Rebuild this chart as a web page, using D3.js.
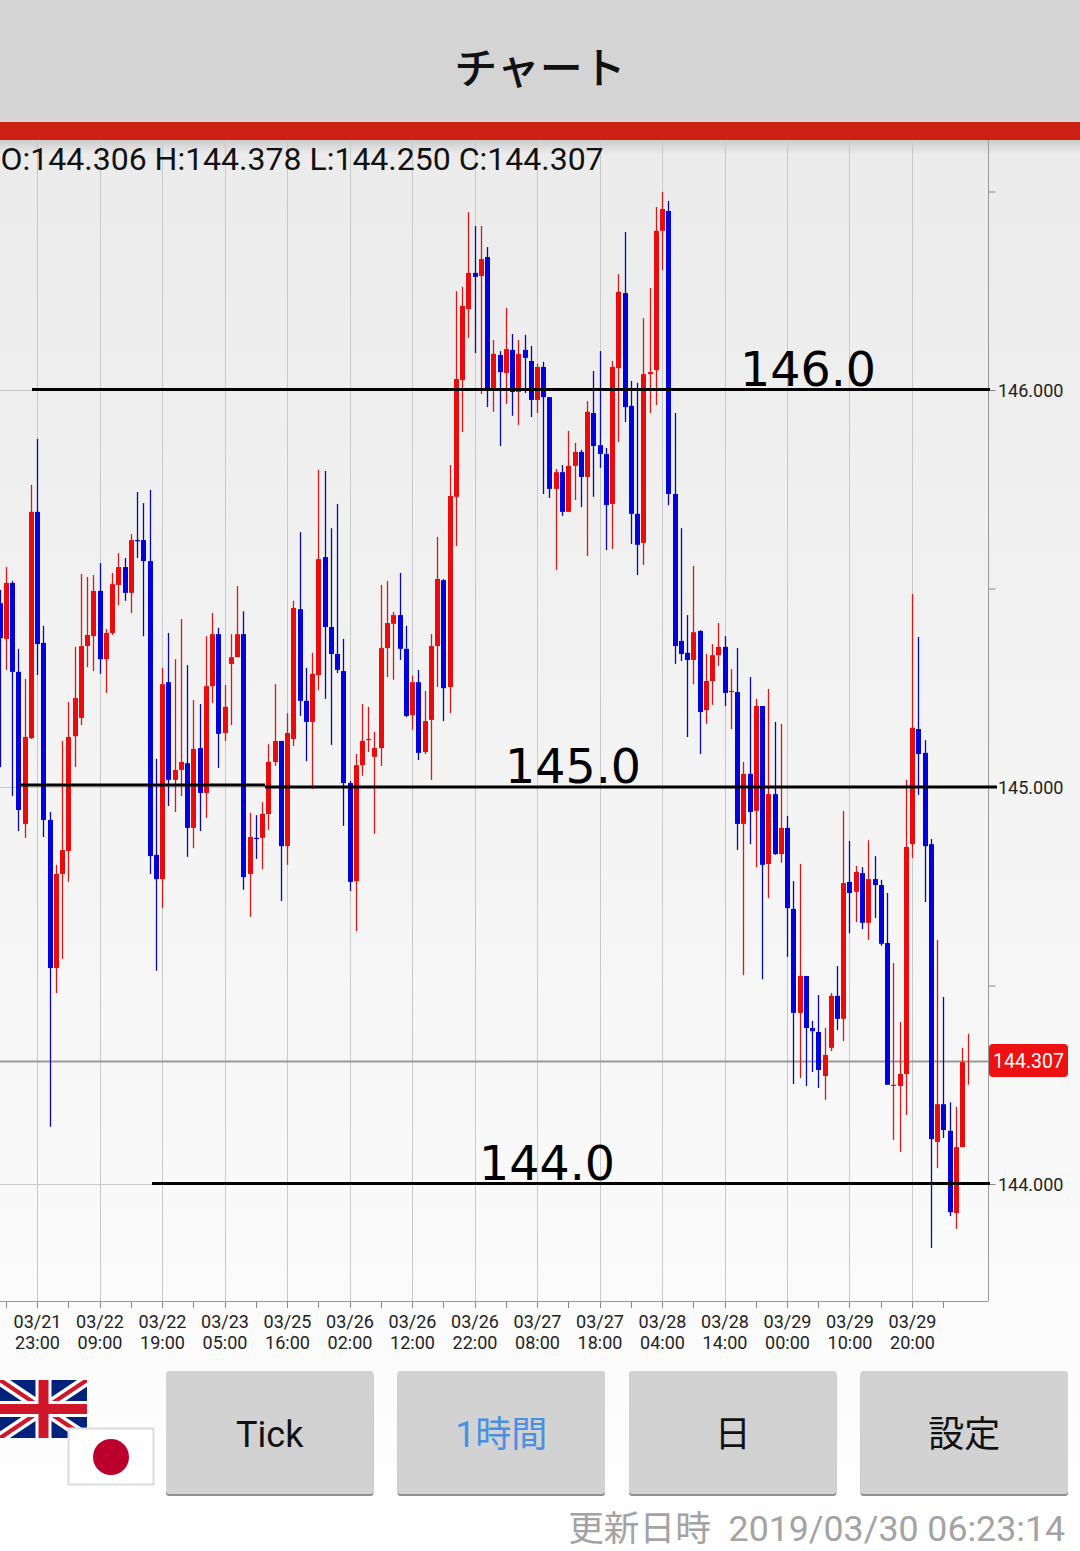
<!DOCTYPE html>
<html lang="ja">
<head>
<meta charset="utf-8">
<script src="https://cdn.jsdelivr.net/npm/d3@7/dist/d3.min.js"></script>
<style>
html,body{margin:0;padding:0;background:#fff;}
svg{display:block;}
text{font-family:Roboto,"Noto Sans CJK JP",sans-serif;}
</style>
</head>
<body>
<script>
const highs=[145.496,145.554,145.519,145.348,145.272,145.761,145.877,145.406,144.937,144.804,
145.116,145.214,145.353,145.537,145.529,145.534,145.564,145.398,145.539,145.589,
145.577,145.637,145.743,145.715,145.748,145.071,145.300,145.388,145.322,145.423,
145.307,145.219,145.209,145.380,145.438,145.401,145.257,145.385,145.506,145.443,
144.935,144.929,144.962,145.108,145.259,145.116,145.186,145.469,145.642,145.300,
145.338,145.799,145.796,145.652,145.713,145.373,145.015,145.083,145.209,145.202,
145.139,145.509,145.519,145.441,145.539,145.406,145.280,145.295,145.242,145.385,
145.630,145.524,145.811,146.249,146.260,146.448,146.413,146.413,146.360,146.126,
146.098,146.207,146.141,146.126,146.139,146.111,146.066,146.071,145.982,145.801,
145.811,145.897,145.867,145.849,145.972,146.048,146.098,145.854,146.073,146.292,
146.398,146.023,146.018,146.181,146.257,146.461,146.499,146.476,145.942,145.652,
145.433,145.557,145.395,145.335,145.360,145.413,145.380,145.297,145.350,145.063,
145.277,145.222,145.204,145.247,145.164,145.159,144.927,144.763,144.806,144.524,
144.411,144.476,144.393,144.481,144.549,144.940,144.864,144.801,144.798,144.866,
144.826,144.766,144.733,144.557,144.408,145.018,145.486,145.378,145.118,144.869,
144.615,144.471,144.206,144.194,144.343,144.378];
const lows=[145.050,145.295,144.977,144.889,144.872,145.121,145.282,144.874,144.144,144.481,
144.567,144.761,145.050,145.156,145.302,145.292,145.285,145.237,145.383,145.458,
145.469,145.438,145.577,145.380,144.781,144.537,144.695,144.952,144.937,144.977,
144.824,144.846,144.889,144.922,145.212,145.048,145.116,145.156,145.327,144.741,
144.673,144.819,144.793,144.892,145.053,144.713,144.804,145.103,145.179,145.065,
144.995,145.244,145.222,145.106,145.287,144.902,144.738,144.637,145.028,145.088,
144.882,145.053,145.277,145.270,145.320,145.176,145.144,145.068,145.083,145.018,
145.252,145.166,145.186,145.607,145.894,146.131,146.093,145.990,145.957,145.945,
145.859,145.965,145.935,145.912,145.992,145.932,145.942,145.738,145.728,145.547,
145.683,145.693,145.723,145.705,145.582,145.731,145.804,145.597,145.600,145.869,
145.919,145.612,145.534,145.559,145.942,145.962,146.302,145.710,145.310,145.317,
145.126,145.259,145.083,145.159,145.207,145.305,145.204,145.146,144.841,144.526,
144.856,144.798,144.516,144.720,144.829,144.809,144.572,144.252,144.267,144.247,
144.282,144.242,144.212,144.335,144.388,144.360,144.632,144.660,144.642,144.615,
144.670,144.600,144.250,144.111,144.081,144.174,144.821,144.980,144.710,143.839,
144.040,144.116,143.919,143.887,144.093,144.250];
const opens=[145.463,145.373,145.514,145.290,144.907,145.123,145.693,145.363,144.917,144.544,
144.781,144.839,145.128,145.174,145.355,145.380,145.494,145.322,145.388,145.509,
145.554,145.489,145.622,145.622,145.569,144.829,144.768,145.264,145.018,145.043,
145.060,144.897,145.098,144.985,145.254,145.385,145.136,145.310,145.327,145.385,
144.781,144.872,144.872,144.932,145.063,145.116,144.851,145.121,145.448,145.217,
145.164,145.282,145.579,145.403,145.335,145.292,145.010,144.763,145.055,145.118,
145.076,145.098,145.350,145.411,145.433,145.348,145.181,145.264,145.088,145.169,
145.355,145.521,145.252,145.731,146.025,146.204,146.295,146.287,146.335,146.003,
146.088,146.043,146.101,145.995,146.101,146.073,145.975,146.058,145.982,145.751,
145.793,145.693,145.809,145.844,145.781,145.942,145.861,145.839,145.713,146.055,
146.244,145.960,145.688,145.615,146.040,146.050,146.401,146.451,145.738,145.368,
145.338,145.320,145.393,145.194,145.267,145.332,145.353,145.239,145.239,144.907,
145.033,144.940,145.204,144.806,144.982,144.831,144.897,144.693,144.431,144.524,
144.393,144.383,144.272,144.343,144.474,144.416,144.761,144.736,144.783,144.658,
144.768,144.753,144.607,144.247,144.247,144.277,144.856,145.146,145.086,144.856,
144.106,144.201,144.134,143.927,144.093,144.306];
const closes=[145.375,145.514,145.290,144.942,145.126,145.693,145.360,144.917,144.544,144.781,
144.841,145.126,145.224,145.355,145.383,145.494,145.322,145.388,145.511,145.554,
145.489,145.622,145.620,145.569,144.826,144.768,145.259,145.018,145.043,145.063,
144.897,145.096,144.985,145.254,145.385,145.134,145.202,145.327,145.385,144.773,
144.874,144.870,144.932,145.063,145.116,144.851,145.136,145.451,145.217,145.164,
145.285,145.574,145.403,145.335,145.295,145.010,144.761,145.055,145.116,145.121,
145.098,145.350,145.413,145.433,145.348,145.179,145.264,145.086,145.166,145.355,
145.524,145.249,145.733,146.028,146.212,146.295,146.285,146.330,146.003,146.091,
146.045,146.103,145.995,146.091,146.081,145.975,146.058,145.982,145.751,145.793,
145.693,145.809,145.844,145.781,145.945,145.859,145.839,145.710,146.058,146.247,
145.957,145.688,145.610,146.040,146.045,146.401,146.456,145.738,145.355,145.335,
145.320,145.390,145.189,145.267,145.332,145.353,145.237,145.242,144.907,145.033,
144.937,145.204,144.804,144.982,144.831,144.897,144.695,144.431,144.524,144.393,
144.385,144.287,144.325,144.474,144.416,144.758,144.733,144.786,144.658,144.768,
144.753,144.605,144.250,144.250,144.277,144.849,145.149,145.083,144.851,144.113,
144.201,144.136,143.929,144.093,144.307,144.307];

const dateLabels=["03/21","03/22","03/22","03/23","03/25","03/26","03/26","03/26","03/27","03/27","03/28","03/28","03/29","03/29","03/29"];
const timeLabels=["23:00","09:00","19:00","05:00","16:00","02:00","12:00","22:00","08:00","18:00","04:00","14:00","00:00","10:00","20:00"];
const labelIndexes=dateLabels.map((d,i)=>6+i*10);
const priceTicks=[146.5,146,145.5,145,144.5,144];
const majorPrices=[146,145,144];
const levelPrices=[146,145.004,144.999,144];
const levelStart=[32,20,265,152];
const levelEnd=[990,265,997,990];
const levelTextPrices=[146,145,144];
const levelText=["146.0","145.0","144.0"];
const levelTextX=[740,505,479];
const lastPrice=144.307;
const ohlcText="O:144.306 H:144.378 L:144.250 C:144.307";
const buttons=["Tick","1時間","日","設定"];
const titleText="チャート";
const footerText="更新日時  2019/03/30 06:23:14";

const W=1080,H=1551;
const svg=d3.select("body").append("svg").attr("width",W).attr("height",H).attr("viewBox",[0,0,W,H]);
const defs=svg.append("defs");
const bg=defs.append("linearGradient").attr("id","bg").attr("x1",0).attr("x2",0).attr("y1",0).attr("y2",1);
bg.append("stop").attr("offset","0").attr("stop-color","#ebebeb");
bg.append("stop").attr("offset","0.75").attr("stop-color","#f9f9f9");
bg.append("stop").attr("offset","1").attr("stop-color","#ffffff");
const sh=defs.append("linearGradient").attr("id","sh").attr("x1",0).attr("x2",0).attr("y1",0).attr("y2",1);
sh.append("stop").attr("offset","0").attr("stop-color","#c8c8c8").attr("stop-opacity",0.9);
sh.append("stop").attr("offset","1").attr("stop-color","#c8c8c8").attr("stop-opacity",0);
defs.append("filter").attr("id","soft").append("feGaussianBlur").attr("stdDeviation",0.6);

const plotRight=988.5, plotTop=140, plotBottom=1301;
const x=d3.scaleLinear().domain([6,155]).range([37.5,968.75]);
const y=d3.scaleLinear().domain([146,144]).range([390,1184]);
const cx=i=>Math.floor(x(i))+0.5;

svg.append("rect").attr("x",0).attr("y",140).attr("width",W).attr("height",H-140).attr("fill","url(#bg)");
svg.append("rect").attr("x",0).attr("y",140).attr("width",W).attr("height",14).attr("fill","url(#sh)");

// vertical grid
svg.append("g").selectAll("line").data(labelIndexes).join("line")
  .attr("x1",d=>cx(d)).attr("x2",d=>cx(d)).attr("y1",plotTop).attr("y2",plotBottom)
  .attr("stroke","#c9c9c9").attr("stroke-width",1);
// horizontal grid
svg.append("g").selectAll("line").data(majorPrices).join("line")
  .attr("x1",0).attr("x2",plotRight).attr("y1",d=>y(d)+0.5).attr("y2",d=>y(d)+0.5)
  .attr("stroke","#c9c9c9").attr("stroke-width",1);

// last price line
svg.append("line").attr("x1",0).attr("x2",plotRight).attr("y1",y(lastPrice)-0.5).attr("y2",y(lastPrice)-0.5)
  .attr("stroke","#999").attr("stroke-width",2);

// axes
const xTicks=d3.range(1,156,5);
const gx=svg.append("g").attr("transform",`translate(0,${plotBottom})`)
  .call(d3.axisBottom(x).tickValues(xTicks).tickSize(7).tickFormat(""));
gx.selectAll("line").attr("stroke","#888").attr("x1",0).attr("x2",0);
gx.selectAll(".tick").attr("transform",d=>`translate(${cx(d)},0)`);
gx.select(".domain").remove();
svg.append("line").attr("x1",0).attr("x2",plotRight).attr("y1",plotBottom+0.5).attr("y2",plotBottom+0.5).attr("stroke","#999");

const gy=svg.append("g").attr("transform",`translate(${plotRight},0)`)
  .call(d3.axisRight(y).tickValues(priceTicks).tickSize(7).tickFormat(d=>majorPrices.includes(d)?d3.format(".3f")(d):""));
gy.select(".domain").remove();
gy.selectAll("line").attr("stroke","#888");
gy.selectAll("text").attr("x",9.5).attr("y",1).attr("fill","#222").style("font-size","18px").style("font-family","Roboto");
svg.append("line").attr("x1",plotRight).attr("x2",plotRight).attr("y1",plotTop).attr("y2",plotBottom).attr("stroke","#999");

// candles
const idx=d3.range(highs.length);
const isUp=i=>closes[i]>=opens[i];
const bodyPx=i=>Math.abs(y(opens[i])-y(closes[i]));
const candles=svg.append("g");
candles.selectAll("line").data(idx).join("line")
  .attr("x1",cx).attr("x2",cx).attr("y1",i=>y(highs[i])).attr("y2",i=>y(lows[i]))
  .attr("stroke",i=>isUp(i)?"#d81818":"#0808b0").attr("stroke-width",1.3);
candles.selectAll("rect").data(idx).join("rect")
  .attr("x",i=>cx(i)-2.5).attr("width",5)
  .attr("y",i=>Math.min(y(opens[i]),y(closes[i])))
  .attr("height",i=>bodyPx(i)<0.5?0:Math.max(1.2,bodyPx(i)))
  .attr("fill",i=>isUp(i)?"#ea0c0c":"#0202dc");

// x labels
const xl=svg.append("g").attr("text-anchor","middle").attr("fill","#222").style("font-size","18px");
const xg=xl.selectAll("g").data(labelIndexes).join("g").attr("transform",d=>`translate(${x(d)},0)`);
xg.append("text").attr("y",1322).attr("dy","0.35em").text((d,i)=>dateLabels[i]);
xg.append("text").attr("y",1343).attr("dy","0.35em").text((d,i)=>timeLabels[i]);

// level lines
const lv=svg.append("g");
lv.selectAll("line").data(levelPrices).join("line")
  .attr("x1",(d,i)=>levelStart[i]).attr("x2",(d,i)=>levelEnd[i])
  .attr("y1",d=>y(d)-0.5).attr("y2",d=>y(d)-0.5)
  .attr("stroke","#000").attr("stroke-width",3);
lv.selectAll("text").data(levelTextPrices).join("text")
  .attr("x",(d,i)=>levelTextX[i]).attr("y",d=>y(d)-4.5)
  .style("font-family","'DejaVu Sans'").style("font-size","47.5px").attr("fill","#000")
  .text((d,i)=>levelText[i]);

// price tag
svg.append("rect").attr("x",989).attr("y",1044).attr("width",79).attr("height",33).attr("rx",4).attr("fill","#ee1111");
svg.append("text").attr("x",1028.5).attr("y",1061).attr("dy","0.35em").attr("text-anchor","middle").attr("fill","#fff").style("font-size","19.5px").text(d3.format(".3f")(lastPrice));

// header
svg.append("rect").attr("x",0).attr("y",0).attr("width",W).attr("height",122).attr("fill","#d4d4d4");
svg.append("rect").attr("x",0).attr("y",122).attr("width",W).attr("height",18).attr("fill","#cc2014");
svg.append("text").attr("x",540).attr("y",69).attr("dy","0.36em").attr("text-anchor","middle").attr("fill","#111")
  .style("font-family","'Noto Sans CJK JP'").style("font-weight",500).style("font-size","43px").text(titleText);
svg.append("text").attr("x",0.5).attr("y",170).attr("fill","#111").style("font-size","32px").text(ohlcText);

// flags
const uk=svg.append("g").attr("transform","translate(0,1380)");
defs.append("clipPath").attr("id","ukc").append("rect").attr("width",87).attr("height",58);
const ukg=uk.append("g").attr("clip-path","url(#ukc)").append("g").attr("filter","url(#soft)");
ukg.append("rect").attr("x",-2).attr("y",-2).attr("width",91).attr("height",62).attr("fill","#00247d");
ukg.append("path").attr("d","M0,0L87,58M87,0L0,58").attr("stroke","#fff").attr("stroke-width",11);
ukg.append("path").attr("d","M0,0L87,58M87,0L0,58").attr("stroke","#cf142b").attr("stroke-width",4);
ukg.append("path").attr("d","M43.5,-2V60M-2,29H89").attr("stroke","#fff").attr("stroke-width",16);
ukg.append("path").attr("d","M43.5,-2V60M-2,29H89").attr("stroke","#cf142b").attr("stroke-width",10);
svg.append("rect").attr("x",68.5).attr("y",1428.5).attr("width",85).attr("height",56).attr("fill","#fff").attr("stroke","#dcdcdc").attr("stroke-width",2);
svg.append("circle").attr("cx",111).attr("cy",1457).attr("r",18).attr("fill","#bc002d");

// buttons
const bx=d3.scaleBand().domain(buttons).range([166,1068]).paddingInner(0.1037).paddingOuter(0);
const bb=svg.append("g").selectAll("g").data(buttons).join("g").attr("transform",d=>`translate(${bx(d)},1371)`);
bb.append("rect").attr("y",2).attr("width",bx.bandwidth()).attr("height",123).attr("rx",3).attr("fill","#8f8f8f");
bb.append("rect").attr("width",bx.bandwidth()).attr("height",123).attr("rx",3).attr("fill","#d2d2d2");
bb.append("text").attr("x",bx.bandwidth()/2).attr("y",63).attr("dy","0.36em").attr("text-anchor","middle")
  .attr("fill",d=>d==="1時間"?"#4a90e2":"#111").style("font-size",d=>d==="Tick"?"36px":"36px")
  .style("font-family",d=>d==="Tick"?"Roboto":"Roboto,'Noto Sans CJK JP'").text(d=>d);

// footer
svg.append("text").attr("x",1065).attr("y",1541).attr("text-anchor","end").attr("fill","#a3a3a3")
  .attr("xml:space","preserve").style("white-space","pre").style("font-size","35.7px").text(footerText);
</script>
</body>
</html>
